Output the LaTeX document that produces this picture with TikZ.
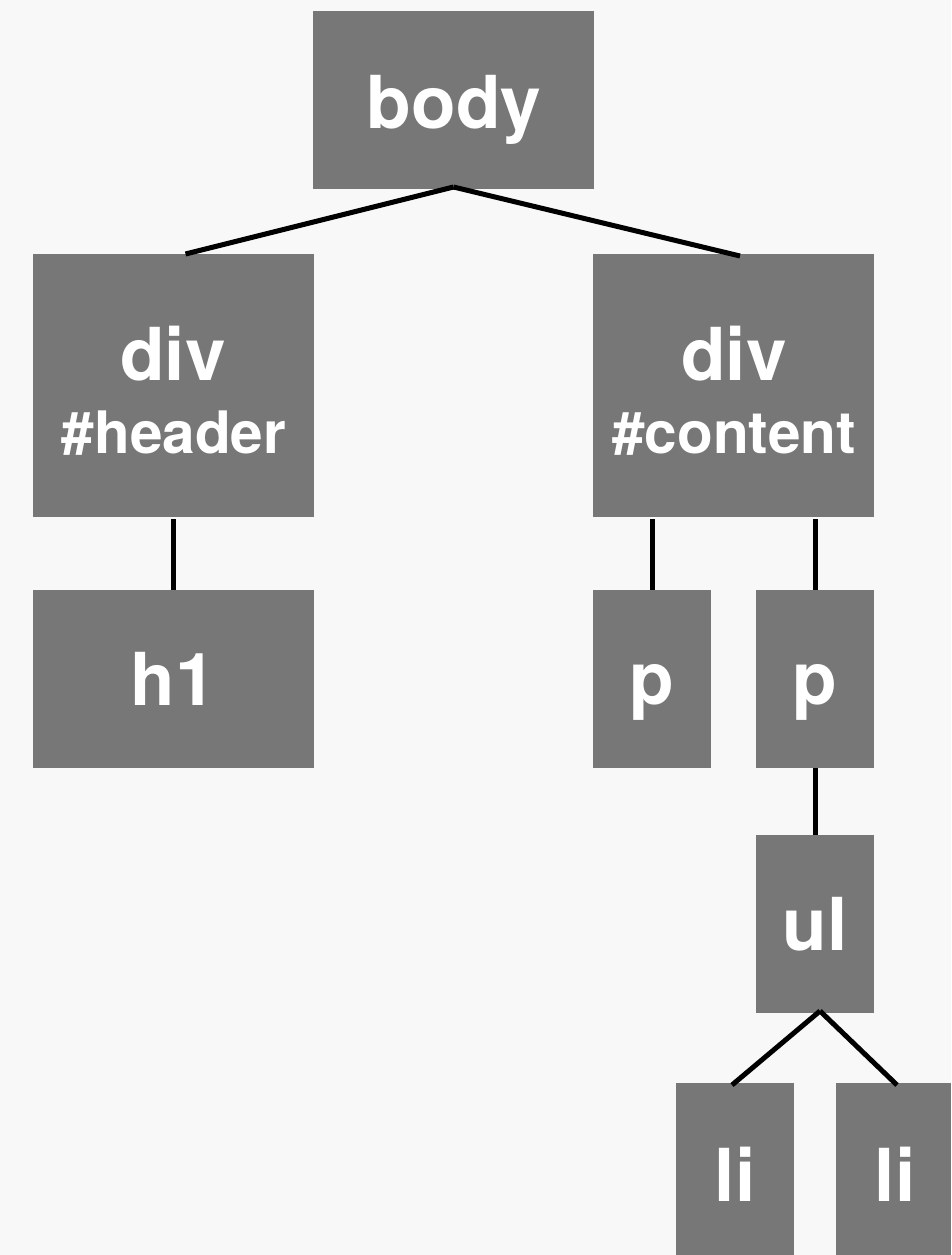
\documentclass[tikz,border=0pt]{standalone}
\usepackage{fontspec}
\setmainfont{TeX Gyre Heros}
\usetikzlibrary{calc}
\definecolor{boxgray}{HTML}{777777}
\definecolor{bggray}{HTML}{F8F8F8}
\begin{document}
\begin{tikzpicture}[x=1pt,y=-1pt,
  box/.style={draw=none,fill=boxgray,anchor=north west,inner sep=0pt,outer sep=0pt},
  lbl/.style={anchor=base,inner sep=0pt,text=white,font=\bfseries\fontsize{73}{83}\selectfont},
  sublbl/.style={anchor=base,inner sep=0pt,text=white,font=\bfseries\fontsize{58.5}{68}\selectfont},
  edge/.style={line width=5pt,black}]
\fill[bggray] (0,0) rectangle (951,1255);
\useasboundingbox (0,0) rectangle (951,1255);
% boxes
\node[box,minimum width=281pt,minimum height=178pt] (body) at (313,11) {};
\node[box,minimum width=281pt,minimum height=263pt] (header) at (33,254) {};
\node[box,minimum width=281pt,minimum height=263pt] (content) at (593,254) {};
\node[box,minimum width=281pt,minimum height=178pt] (h1) at (33,590) {};
\node[box,minimum width=118pt,minimum height=178pt] (p1) at (593,590) {};
\node[box,minimum width=118pt,minimum height=178pt] (p2) at (756,590) {};
\node[box,minimum width=118pt,minimum height=178pt] (ul) at (756,835) {};
\node[box,minimum width=118pt,minimum height=180pt] (li1) at (676,1083) {};
\node[box,minimum width=115pt,minimum height=180pt] (li2) at (836,1083) {};
% labels
\node[lbl] (tbody) at (454,128) {body};
\node[lbl] (tdiv1) at (173,380) {div};
\node[sublbl] (thead) at (174,453) {\#header};
\node[lbl] (tdiv2) at (734,380) {div};
\node[sublbl] (tcont) at (734,453) {\#content};
\node[lbl] (th1) at (173,705) {h1};
\node[lbl] (tp1) at (652,704) {p};
\node[lbl] (tp2) at (815,704) {p};
\node[lbl] (tul) at (815,950) {ul};
\node[lbl] (tli1) at (735,1201) {li};
\node[lbl] (tli2) at (895,1201) {li};
% connectors
\draw[edge] ([yshift=2pt]body.south) -- ([xshift=12pt]header.north);
\draw[edge] ([yshift=2pt]body.south) -- ([xshift=6.5pt,yshift=-2pt]content.north);
\draw[edge] ([yshift=-2pt]header.south) -- (h1.north);
\draw[edge] ([yshift=-2pt]p1.north |- content.south) -- (p1.north);
\draw[edge] ([yshift=-2pt]p2.north |- content.south) -- (p2.north);
\draw[edge] (p2.south) -- (ul.north);
\draw[edge] ([xshift=5pt,yshift=2pt]ul.south) -- ([xshift=-3pt,yshift=-2pt]li1.north);
\draw[edge] ([xshift=5pt,yshift=2pt]ul.south) -- ([xshift=3.5pt,yshift=-2pt]li2.north);
\end{tikzpicture}
\end{document}
